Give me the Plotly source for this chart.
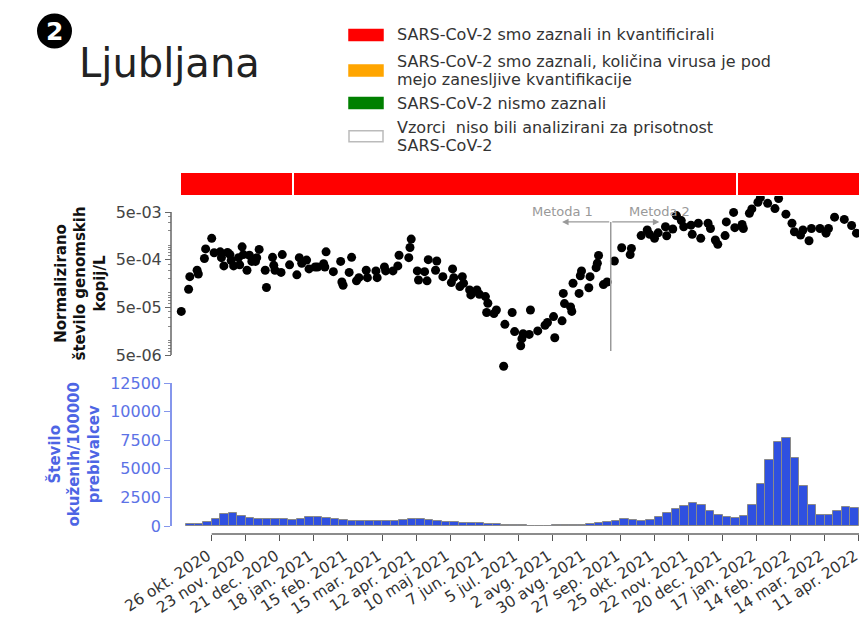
import math
import pandas as pd
import plotly.graph_objects as go

W, H = 859, 620
FONT = "DejaVu Sans"

# ---------------- data ----------------
REF_DAY = "2020-10-26"  # sample_day counts days from this Monday
sample_day = [-25, -19, -18, -12, -11, -6, -5, 0, 2, 7, 8, 10, 13, 15, 16, 18, 22, 23, 25, 26,
              29, 31, 33, 36, 37, 39, 44, 45, 50, 51, 52, 57, 58, 64, 70, 72, 74, 78, 80, 85,
              87, 92, 93, 94, 100, 106, 107, 108, 113, 115, 119, 121, 127, 128, 135, 136, 142, 143, 149, 153,
              154, 162, 163, 164, 169, 170, 175, 177, 178, 184, 185, 190, 197, 198, 199, 204, 206, 207, 212, 213,
              218, 220, 225, 226, 227, 232, 234, 240, 241, 247, 249, 254, 255, 256, 261, 262, 268, 274, 276, 281,
              282, 288, 289, 290, 295, 296, 297, 302, 303, 304, 310, 311, 316, 317, 318, 322, 325, 331, 337, 344,
              345, 353, 358, 360, 364, 367, 373, 374, 379, 382, 386, 388, 394, 395, 400, 402, 408, 410, 414, 416,
              422, 423, 429, 430, 436, 437, 442, 444, 449, 451, 457, 463, 466, 472, 477, 479, 484, 486, 491, 493,
              500, 505, 507, 512, 520, 526, 530]
rna_norm = [4.1e-5, 1.2e-4, 2.2e-4, 3.0e-4, 2.5e-4, 5.3e-4, 8.4e-4, 1.4e-3, 7.0e-4, 7.3e-4,
            5.5e-4, 3.7e-4, 7.1e-4, 6.4e-4, 4.8e-4, 3.7e-4, 5.5e-4, 3.9e-4, 9.3e-4, 6.4e-4,
            3.0e-4, 6.2e-4, 4.6e-4, 4.6e-4, 5.5e-4, 8.2e-4, 3.0e-4, 1.3e-4, 5.6e-4, 3.8e-4,
            3.0e-4, 2.7e-4, 6.4e-4, 3.9e-4, 2.4e-4, 5.5e-4, 4.2e-4, 4.9e-4, 3.2e-4, 3.5e-4,
            3.5e-4, 4.1e-4, 3.5e-4, 7.3e-4, 2.8e-4, 4.6e-4, 1.7e-4, 1.45e-4, 2.7e-4, 5.6e-4,
            1.8e-4, 2.1e-4, 3.0e-4, 2.1e-4, 2.9e-4, 2.1e-4, 3.5e-4, 2.9e-4, 2.9e-4, 3.7e-4,
            6.2e-4, 5.5e-4, 9.0e-4, 1.35e-3, 2.9e-4, 1.87e-4, 2.8e-4, 1.8e-4, 5.0e-4, 3.0e-4,
            4.7e-4, 2.2e-4, 1.65e-4, 3.2e-4, 2.1e-4, 1.36e-4, 2.2e-4, 1.6e-4, 1.16e-4, 9.1e-5,
            1.16e-4, 9.4e-5, 8.4e-5, 3.9e-5, 6.1e-5, 3.7e-5, 4.4e-5, 2.9e-6, 2.2e-5, 3.9e-5,
            1.55e-5, 7.8e-6, 1.1e-5, 1.4e-5, 1.35e-5, 4.4e-5, 1.6e-5, 2.1e-5, 2.4e-5, 3.2e-5,
            1.15e-5, 2.6e-5, 9.8e-5, 6.0e-5, 5.1e-5, 4.1e-5, 1.6e-4, 9.8e-5, 2.3e-4, 2.9e-4,
            1.29e-4, 2.2e-4, 3.4e-4, 4.2e-4, 6.1e-4, 1.5e-4, 1.7e-4, 4.7e-4, 8.9e-4, 6.4e-4,
            8.6e-4, 1.6e-3, 2.1e-3, 1.7e-3, 1.4e-3, 1.83e-3, 2.45e-3, 1.59e-3, 2.2e-3, 4.2e-3,
            3.3e-3, 2.45e-3, 2.65e-3, 1.7e-3, 2.9e-3, 1.4e-3, 2.9e-3, 2.25e-3, 1.29e-3, 1.05e-3,
            1.6e-3, 3.1e-3, 4.9e-3, 2.35e-3, 2.75e-3, 2.25e-3, 4.7e-3, 5.8e-3, 8.0e-3, 1.0e-2,
            7.6e-3, 5.9e-3, 9.6e-3, 4.5e-3, 2.9e-3, 1.93e-3, 1.65e-3, 2.1e-3, 1.25e-3, 2.25e-3,
            2.25e-3, 1.8e-3, 2.25e-3, 3.9e-3, 3.5e-3, 2.6e-3, 1.8e-3]

CASE_FIRST_WEEK = "2020-10-05"  # weekly bars, one per week
cases_per_100k = [150, 150, 375, 585, 1050, 1165, 900, 730, 640, 610,
                  580, 580, 550, 610, 780, 820, 670, 580, 550, 470,
                  410, 410, 410, 410, 440, 560, 640, 610, 560, 440,
                  380, 350, 290, 260, 230, 200, 150, 100, 70, 50,
                  40, 35, 40, 45, 60, 80, 110, 200, 260, 350,
                  465, 580, 520, 460, 500, 790, 1140, 1490, 1720, 1980,
                  1835, 1280, 930, 790, 700, 870, 1810, 3700, 5800, 7340,
                  7720, 5910, 3500, 1835, 990, 990, 1310, 1660, 1600]

status_start = ["2020-09-30", "2021-01-01", "2022-01-01"]
status_end = ["2021-01-01", "2022-01-01", "2022-12-31"]
status_color = ["#ff0000", "#ff0000", "#ff0000"]

legend_lines = [["SARS-CoV-2 smo zaznali in kvantificirali"],
                ["SARS-CoV-2 smo zaznali, količina virusa je pod", "mejo zanesljive kvantifikacije"],
                ["SARS-CoV-2 nismo zaznali"],
                ["Vzorci\u00a0 niso bili analizirani za prisotnost", "SARS-CoV-2"]]
legend_colors = ["#ff0000", "#ffa500", "#008000", "#ffffff"]

xtick_dates = ["2020-10-26", "2020-11-23", "2020-12-21", "2021-01-18", "2021-02-15",
               "2021-03-15", "2021-04-12", "2021-05-10", "2021-06-07", "2021-07-05",
               "2021-08-02", "2021-08-30", "2021-09-27", "2021-10-25", "2021-11-22",
               "2021-12-20", "2022-01-17", "2022-02-14", "2022-03-14", "2022-04-11"]
xtick_text = ["26 okt. 2020", "23 nov. 2020", "21 dec. 2020", "18 jan. 2021", "15 feb. 2021",
              "15 mar. 2021", "12 apr. 2021", "10 maj 2021", "7 jun. 2021", "5 jul. 2021",
              "2 avg. 2021", "30 avg. 2021", "27 sep. 2021", "25 okt. 2021", "22 nov. 2021",
              "20 dec. 2021", "17 jan. 2022", "14 feb. 2022", "14 mar. 2022", "11 apr. 2022"]

rna_ticks = [5e-6, 5e-5, 5e-4, 5e-3]
rna_ticktext = ["5e-06", "5e-05", "5e-04", "5e-03"]
case_ticks = [0, 2500, 5000, 7500, 10000, 12500]
case_ticktext = ["0", "2500", "5000", "7500", "10000", "12500"]

method_switch = "2021-09-19"
method_labels = ["Metoda 1", "Metoda 2"]

# ---------------- layout helpers ----------------
sample_dates = pd.Timestamp(REF_DAY) + pd.to_timedelta(sample_day, unit="D")
week_starts = pd.date_range(CASE_FIRST_WEEK, periods=len(cases_per_100k), freq="7D")
week_centers = week_starts + pd.Timedelta(hours=84)
DAY_MS = 86400000
status_dur = [(pd.Timestamp(e) - pd.Timestamp(s)).total_seconds() * 1000
              for s, e in zip(status_start, status_end)]

X_LEFT = "2020-09-28 07:00"
X_RIGHT = "2022-04-11 02:00"


def px_x(p):
    return p / W


def px_y(p):
    return 1 - p / H


# log axis: 5e-3 at pixel 212, 5e-6 at pixel 355 -> extend the range so every point fits
DEC_PX = (355 - 212) / 3.0
LOG_TOP = math.log10(5e-3) + (212 - 195) / DEC_PX
LOG_BOT = math.log10(5e-6) - (373 - 355) / DEC_PX

minor_vals = [m * 10 ** e for e in range(-6, -1) for m in range(1, 10)
              if 5e-6 < m * 10 ** e < 5e-3 and m != 5]

fig = go.Figure()

fig.add_trace(go.Bar(
    x=status_dur, base=status_start, y=[0] * len(status_start), orientation="h", width=1,
    marker=dict(color=status_color, line=dict(color="white", width=2)),
    xaxis="x", yaxis="y3", hoverinfo="skip"))

fig.add_trace(go.Scatter(
    x=sample_dates, y=rna_norm, mode="markers",
    marker=dict(size=9, color="black"), cliponaxis=False,
    xaxis="x", yaxis="y2"))

fig.add_trace(go.Bar(
    x=week_centers, y=cases_per_100k, width=7 * DAY_MS,
    marker=dict(color="#2f50e0", line=dict(color="#8a8a8a", width=1)),
    xaxis="x", yaxis="y"))

BLUE_TXT = "#5c72e6"
BLUE_LINE = "#8596ec"
X_AXIS_PX = 534

fig.update_layout(
    template="none",
    width=W, height=H,
    margin=dict(l=0, r=0, t=0, b=0),
    paper_bgcolor="white", plot_bgcolor="rgba(0,0,0,0)",
    showlegend=False, bargap=0,
    font=dict(family=FONT, color="#333"),
    xaxis=dict(type="date", domain=[px_x(178), 1], range=[X_LEFT, X_RIGHT],
               anchor="free", position=px_y(X_AXIS_PX), showline=False, showgrid=False,
               zeroline=False, ticks="outside", ticklen=6, tickwidth=1, tickcolor="#555",
               tickmode="array", tickvals=xtick_dates, ticktext=xtick_text, tickangle=-33,
               ticklabeloverflow="allow", ticklabelshift=-4,
               tickfont=dict(family=FONT, size=15.5, color="#333"), automargin=False),
    yaxis=dict(domain=[px_y(526), px_y(383)], range=[0, 12500], anchor="free",
               position=px_x(171), showline=True, linecolor=BLUE_LINE, linewidth=1.5,
               ticks="outside", ticklen=6, tickcolor=BLUE_LINE, tickmode="array",
               tickvals=case_ticks, ticktext=case_ticktext,
               tickfont=dict(family=FONT, size=16, color=BLUE_TXT),
               showgrid=False, zeroline=False, automargin=False),
    yaxis2=dict(type="log", domain=[px_y(373), px_y(195)],
                range=[LOG_BOT, LOG_TOP], anchor="free",
                position=px_x(171), showline=False,
                ticks="outside", ticklen=6, tickcolor="#666", tickmode="array",
                tickvals=rna_ticks, ticktext=rna_ticktext,
                tickfont=dict(family=FONT, size=16, color="#444"),
                minor=dict(ticks="outside", ticklen=3, tickcolor="#888", tickmode="array",
                           tickvals=minor_vals, showgrid=False),
                showgrid=False, zeroline=False, automargin=False),
    yaxis3=dict(domain=[px_y(196), px_y(172)], range=[-0.5, 0.5], visible=False,
                anchor="free", position=0),
)

shapes = []
annotations = []

# trimmed spines
shapes.append(dict(type="line", xref="x", yref="paper", x0=xtick_dates[0], x1=X_RIGHT,
                   y0=px_y(X_AXIS_PX), y1=px_y(X_AXIS_PX), line=dict(color="#666", width=1.5)))
shapes.append(dict(type="line", xref="paper", yref="paper", x0=px_x(171), x1=px_x(171),
                   y0=px_y(355), y1=px_y(212), line=dict(color="#666", width=1.5)))

# method switch marker
y_arrow = math.log10(3.1e-3)
shapes.append(dict(type="line", xref="x", yref="paper", x0=method_switch, x1=method_switch,
                   y0=px_y(351), y1=px_y(222), line=dict(color="#999", width=1.5)))
sw = pd.Timestamp(method_switch)
for lab, sgn in zip(method_labels, [-1, 1]):
    head = (sw + pd.Timedelta(days=40 * sgn)).strftime("%Y-%m-%d")
    annotations.append(dict(xref="x", yref="y2", axref="x", ayref="y2", x=head, y=y_arrow,
                            ax=method_switch, ay=y_arrow, text="", showarrow=True,
                            arrowhead=2, arrowsize=1, arrowwidth=1.3, arrowcolor="#999"))
    annotations.append(dict(xref="x", yref="y2", x=head, y=math.log10(5.05e-3), text=lab,
                            showarrow=False, xanchor="center", yanchor="middle",
                            font=dict(family=FONT, size=13, color="#999")))

# title
shapes.append(dict(type="circle", xref="paper", yref="paper", x0=px_x(37), x1=px_x(72),
                   y0=px_y(48.5), y1=px_y(13.5), fillcolor="black", line=dict(width=0)))
annotations.append(dict(xref="paper", yref="paper", x=px_x(54.5), y=px_y(31), text="<b>2</b>",
                        showarrow=False, xanchor="center", yanchor="middle",
                        font=dict(family=FONT, size=25, color="white")))
annotations.append(dict(xref="paper", yref="paper", x=px_x(77), y=px_y(63), text="Ljubljana",
                        showarrow=False, xanchor="left", yanchor="middle",
                        font=dict(family=FONT, size=40, color="#222")))

# legend
row_centers = [35, 70.5, 103, 136.2]
line_gap = 17.6
for lines, col, yc in zip(legend_lines, legend_colors, row_centers):
    shapes.append(dict(type="rect", xref="paper", yref="paper", x0=px_x(349), x1=px_x(383),
                       y0=px_y(yc + 5.5), y1=px_y(yc - 5.5), fillcolor=col,
                       line=dict(color="#bbbbbb" if col == "#ffffff" else col, width=1.5)))
    n = len(lines)
    for j, t in enumerate(lines):
        yy = yc + (j - (n - 1) / 2) * line_gap
        annotations.append(dict(xref="paper", yref="paper", x=px_x(395), y=px_y(yy), text=t,
                                showarrow=False, xanchor="left", yanchor="middle",
                                font=dict(family=FONT, size=16, color="#333")))

# y-axis titles
annotations.append(dict(xref="paper", yref="paper", x=px_x(80), y=px_y(283.5),
                        text="<b>Normalizirano<br>število genomskih<br>kopij/L</b>",
                        textangle=-90, showarrow=False, xanchor="center", yanchor="middle",
                        font=dict(family=FONT, size=15, color="#111")))
annotations.append(dict(xref="paper", yref="paper", x=px_x(73), y=px_y(454.5),
                        text="<b>Število<br>okuženih/100000<br>prebivalcev</b>",
                        textangle=-90, showarrow=False, xanchor="center", yanchor="middle",
                        font=dict(family=FONT, size=15, color="#4d65e4")))

fig.update_layout(shapes=shapes, annotations=annotations)
fig.write_html("out.html", config={"displayModeBar": False},
               post_script="document.body.style.margin='0px';")
